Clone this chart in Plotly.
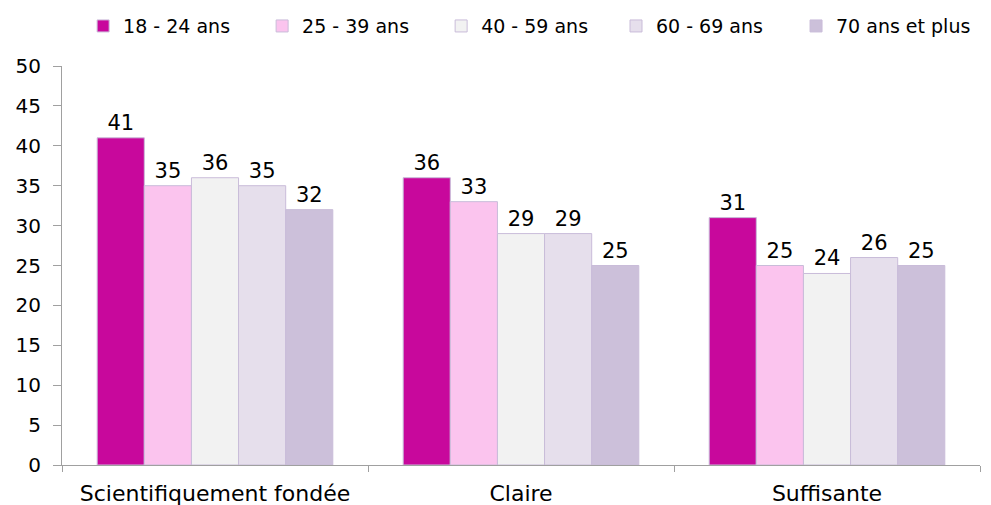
import plotly.graph_objects as go

categories = ["Scientifiquement fondée", "Claire", "Suffisante"]
series_names = ["18 - 24 ans", "25 - 39 ans", "40 - 59 ans", "60 - 69 ans", "70 ans et plus"]
values = {
    "18 - 24 ans": [41, 36, 31],
    "25 - 39 ans": [35, 33, 25],
    "40 - 59 ans": [36, 29, 24],
    "60 - 69 ans": [35, 29, 26],
    "70 ans et plus": [32, 25, 25],
}
colors = ["#C8089C", "#FBC4EE", "#F2F2F2", "#E6DFEC", "#CCC0DA"]
y_ticks = [0, 5, 10, 15, 20, 25, 30, 35, 40, 45, 50]
legend_x = [0.023, 0.218, 0.413, 0.6035, 0.7996]

font = "DejaVu Sans"
fig = go.Figure()
legend_ids = ["legend", "legend2", "legend3", "legend4", "legend5"]
for name, col, lid in zip(series_names, colors, legend_ids):
    fig.add_trace(go.Bar(
        x=categories, y=values[name], name=name, legend=lid,
        marker=dict(color=col, line=dict(color="#C9BCD9", width=1)),
        text=values[name], textposition="outside", cliponaxis=False,
        textfont=dict(family=font, size=21, color="#000000"),
    ))

legend_common = dict(orientation="h", y=1.10, yanchor="middle", xanchor="left",
                     font=dict(family=font, size=19), itemwidth=30,
                     bgcolor="rgba(0,0,0,0)")
fig.update_layout(
    width=991, height=505,
    margin=dict(l=54, r=19, t=58, b=48, autoexpand=False),
    barmode="group", bargap=0.23, bargroupgap=0,
    plot_bgcolor="white", paper_bgcolor="white",
    font=dict(family=font, size=21, color="#000000"),
    showlegend=True,
)
for lid, lx in zip(legend_ids, legend_x):
    fig.update_layout({lid: dict(x=lx, **legend_common)})

fig.update_yaxes(range=[0, 50], tickvals=y_ticks, showgrid=False, showline=True,
                 linecolor="#A0A0A0", ticks="outside", tickcolor="#A0A0A0", ticklen=8,
                 ticklabelstandoff=8,
                 tickfont=dict(size=20), zeroline=False, automargin=False)
fig.update_xaxes(showline=True, linecolor="#A0A0A0", ticks="outside", tickcolor="#A0A0A0",
                 ticklen=6, tickson="boundaries", ticklabelstandoff=9,
                 tickfont=dict(size=22), automargin=False)

fig.write_html("out.html")
